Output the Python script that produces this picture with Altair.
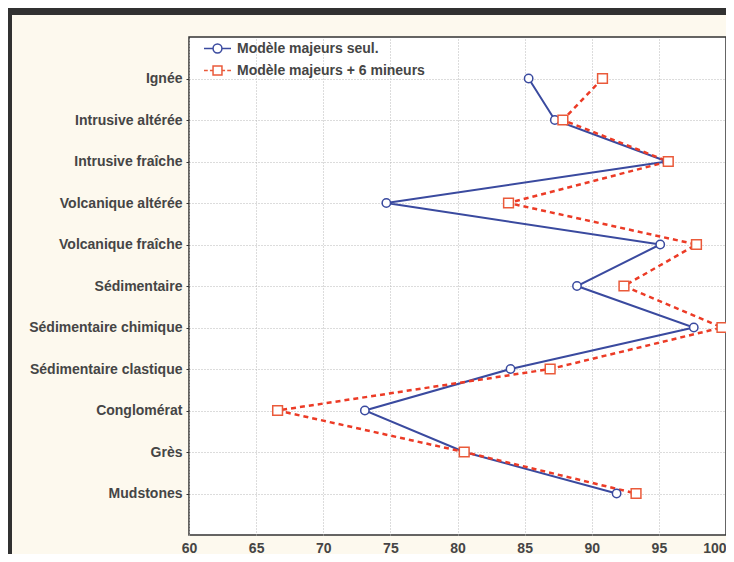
import altair as alt
import pandas as pd

categories = ["Ignée", "Intrusive altérée", "Intrusive fraîche", "Volcanique altérée",
              "Volcanique fraîche", "Sédimentaire", "Sédimentaire chimique",
              "Sédimentaire clastique", "Conglomérat", "Grès", "Mudstones"]
majeurs = [85.3, 87.25, 95.6, 74.7, 95.1, 88.9, 97.6, 83.95, 73.1, 80.5, 91.85]
mineurs = [90.8, 87.85, 95.7, 83.8, 97.8, 92.4, 99.7, 86.9, 66.6, 80.5, 93.3]
series_names = ["Modèle majeurs seul.", "Modèle majeurs + 6 mineurs"]
x_ticks = [60, 65, 70, 75, 80, 85, 90, 95, 100]

BLUE = "#3a4a9f"
RED = "#ec3b26"
RED_MARK = "#ea5a3a"
FONT = "Liberation Sans"
TXT = "#454545"
GRID = "#b8b8b8"

rows = []
for i, c in enumerate(categories):
    rows.append({"cat": c, "idx": i, "value": majeurs[i], "series": series_names[0]})
    rows.append({"cat": c, "idx": i, "value": mineurs[i], "series": series_names[1]})
df = pd.DataFrame(rows)

W, H = 537, 498
TOP = 29

xenc = alt.X("value:Q", scale=alt.Scale(domain=[60, 100], nice=False, zero=False),
             axis=alt.Axis(values=x_ticks, format="d", title=None, ticks=False, domain=False,
                           labelFlush=False,
                           labelAlign={"expr": "datum.value >= 100 ? 'right' : 'center'"},
                           labelPadding=6, labelFontSize=14,
                           labelFontWeight="bold", labelColor=TXT, labelFont=FONT,
                           grid=True, gridColor=GRID, gridDash=[1, 2], gridWidth=1))
yenc = alt.Y("cat:N", sort=categories, scale=alt.Scale(padding=1),
             axis=alt.Axis(title=None, ticks=True, tickSize=3, tickColor="#333", domain=False,
                           labelPadding=4, labelFontSize=14, labelFontWeight="bold",
                           labelColor=TXT, labelFont=FONT,
                           grid=True, gridColor=GRID, gridDash=[1, 2], gridWidth=1))

base = alt.Chart(df)

line_blue = base.transform_filter(alt.datum.series == series_names[0]).mark_line(
    color=BLUE, strokeWidth=2).encode(x=xenc, y=yenc, order="idx:Q")
line_red = base.transform_filter(alt.datum.series == series_names[1]).mark_line(
    color=RED, strokeWidth=2.5, strokeDash=[5, 4]).encode(x=xenc, y=yenc, order="idx:Q")
pts_blue = base.transform_filter(alt.datum.series == series_names[0]).mark_point(
    shape="circle", size=70, fill="white", stroke=BLUE, strokeWidth=1.5, opacity=1
).encode(x=xenc, y=yenc)
pts_red = base.transform_filter(alt.datum.series == series_names[1]).mark_point(
    shape="square", size=95, fill="white", stroke=RED_MARK, strokeWidth=1.5, opacity=1
).encode(x=xenc, y=yenc)

path_blue = "M-1,0H-0.33M0.33,0H1M-0.33,0A0.33,0.33,0,1,1,0.33,0A0.33,0.33,0,1,1,-0.33,0"
path_red = "M-1,0H-0.72M-0.56,0H-0.33M0.33,0H0.56M0.72,0H1M-0.33,-0.33H0.33V0.33H-0.33Z"

leg = dict(title=None, orient="none", legendX=14, legendY=-3,
           symbolSize=729, symbolStrokeWidth=1.5,
           labelFont=FONT, labelFontSize=14, labelFontWeight="bold",
           labelColor=TXT, labelOffset=5, rowPadding=0, padding=0, labelLimit=0)

legend_layer = base.mark_point(opacity=0, filled=False, size=729).encode(
    x=xenc, y=yenc,
    shape=alt.Shape("series:N", scale=alt.Scale(domain=series_names, range=[path_blue, path_red]),
                    legend=alt.Legend(**leg)),
    stroke=alt.Stroke("series:N", scale=alt.Scale(domain=series_names, range=[BLUE, RED_MARK]),
                      legend=alt.Legend(**leg)),
)

band_data = alt.Data(values=[{"k": 1}])
band_top = alt.Chart(band_data).mark_rect(color="#313131").encode(
    x=alt.value(-190), x2=alt.value(W + 20), y=alt.value(-40), y2=alt.value(-TOP + 7))
band_left = alt.Chart(band_data).mark_rect(color="#313131").encode(
    x=alt.value(-190), x2=alt.value(-177), y=alt.value(-40), y2=alt.value(H + 60))

chart = alt.layer(band_top, band_left, line_blue, line_red, pts_blue, pts_red, legend_layer).properties(
    width=W, height=H,
    background="#fdf9ee",
    padding={"left": 181, "top": TOP, "right": 0, "bottom": 19},
    autosize=alt.AutoSizeParams(type="none"),
).configure_view(stroke="#333", strokeWidth=1.5, fill="white")

chart.save("out.html", embed_options={"renderer": "svg", "actions": False})
